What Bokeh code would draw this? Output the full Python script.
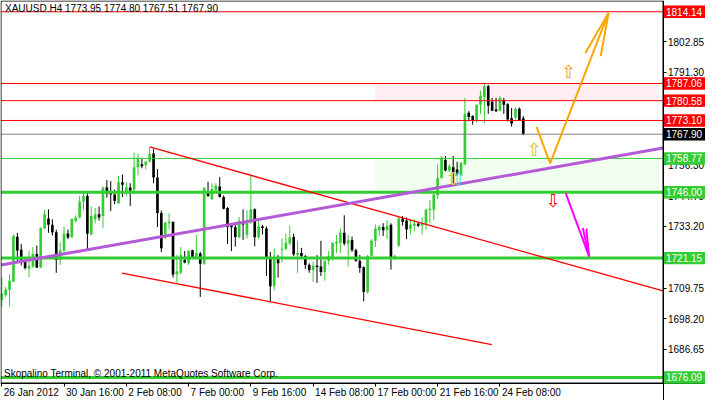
from bokeh.plotting import figure
from bokeh.models import FixedTicker, Label, ColumnDataSource, NumeralTickFormatter, LinearAxis
from bokeh.core.properties import value
from bokeh.embed import file_html
from bokeh.resources import INLINE

# ---------------- data ----------------
bar_open = [1705.3, 1707.2, 1709.2, 1712.3, 1729.2, 1724.3, 1720.1, 1717.2, 1718.0, 1722.7,
            1717.6, 1732.5, 1736.1, 1733.7, 1730.9, 1720.4, 1724.0, 1730.4, 1728.9, 1735.2,
            1736.5, 1742.5, 1744.6, 1730.1, 1735.7, 1737.7, 1737.0, 1747.8, 1746.0, 1745.2,
            1741.8, 1749.8, 1746.1, 1747.8, 1747.0, 1755.4, 1756.6, 1756.3, 1757.6, 1760.6,
            1751.6, 1738.2, 1728.9, 1734.3, 1734.9, 1715.0, 1715.6, 1720.4, 1719.2, 1724.1,
            1721.0, 1722.9, 1719.0, 1745.8, 1743.4, 1746.8, 1748.2, 1744.2, 1740.1, 1733.7,
            1732.8, 1728.9, 1735.2, 1730.0, 1735.0, 1739.6, 1729.0, 1733.1, 1732.3, 1721.0,
            1710.5, 1721.6, 1724.3, 1724.7, 1726.7, 1729.1, 1722.3, 1723.1, 1721.9, 1718.6,
            1716.6, 1718.3, 1718.0, 1715.9, 1720.1, 1721.0, 1726.7, 1726.9, 1730.7, 1726.7,
            1728.0, 1724.1, 1720.1, 1717.7, 1708.4, 1722.0, 1727.7, 1731.7, 1732.9, 1731.7,
            1733.7, 1721.3, 1725.9, 1736.1, 1735.3, 1732.2, 1733.4, 1734.1, 1733.4, 1734.1,
            1739.2, 1739.4, 1744.9, 1751.4, 1758.2, 1754.2, 1755.4, 1754.6, 1752.7, 1756.6,
            1776.0, 1774.8, 1772.9, 1779.0, 1782.0, 1786.0, 1780.2, 1777.2, 1776.8, 1780.8,
            1779.2, 1773.9, 1774.1, 1777.5, 1773.95]
bar_high = [1713.8, 1710.2, 1715.0, 1730.1, 1730.7, 1726.5, 1721.6, 1724.0, 1725.3, 1725.9,
            1732.7, 1739.4, 1739.6, 1735.8, 1731.9, 1727.1, 1733.1, 1731.9, 1736.1, 1737.3,
            1744.6, 1746.4, 1746.4, 1740.6, 1740.1, 1740.6, 1748.2, 1750.6, 1750.2, 1747.0,
            1752.2, 1752.7, 1749.8, 1749.4, 1760.9, 1760.6, 1759.0, 1757.8, 1763.0, 1762.3,
            1754.8, 1739.1, 1734.9, 1738.1, 1734.9, 1722.3, 1725.3, 1723.8, 1724.1, 1724.3,
            1729.9, 1723.5, 1748.0, 1750.0, 1749.4, 1749.4, 1751.8, 1744.8, 1740.4, 1734.3,
            1734.3, 1736.7, 1739.5, 1739.2, 1752.3, 1739.9, 1736.0, 1733.7, 1733.1, 1723.5,
            1724.7, 1722.3, 1728.6, 1730.4, 1733.4, 1730.4, 1727.7, 1725.0, 1722.3, 1719.2,
            1719.8, 1722.3, 1727.7, 1720.4, 1723.8, 1727.1, 1729.9, 1732.3, 1737.3, 1729.9,
            1729.3, 1724.7, 1722.3, 1718.0, 1722.3, 1728.3, 1733.7, 1733.7, 1734.3, 1735.5,
            1734.3, 1722.5, 1736.7, 1737.0, 1736.5, 1735.8, 1735.8, 1734.6, 1736.5, 1739.8,
            1743.0, 1746.4, 1756.6, 1759.7, 1759.7, 1756.6, 1759.7, 1757.5, 1757.5, 1781.6,
            1776.6, 1775.1, 1779.2, 1784.4, 1787.4, 1786.5, 1781.6, 1781.6, 1782.4, 1781.6,
            1779.6, 1777.8, 1778.0, 1778.0, 1774.80]
bar_low = [1702.9, 1706.5, 1702.9, 1712.0, 1719.8, 1718.4, 1716.8, 1714.0, 1717.4, 1717.4,
           1717.4, 1731.9, 1730.7, 1729.7, 1715.6, 1718.6, 1723.4, 1728.3, 1728.9, 1734.5,
           1736.1, 1739.4, 1724.4, 1729.7, 1734.3, 1735.3, 1732.5, 1744.0, 1738.9, 1741.5,
           1741.8, 1744.2, 1744.6, 1740.8, 1745.2, 1752.4, 1755.1, 1754.6, 1757.2, 1749.4,
           1732.9, 1723.4, 1728.3, 1731.9, 1713.8, 1711.8, 1715.0, 1719.2, 1718.6, 1721.0,
           1720.7, 1706.5, 1718.6, 1744.3, 1743.1, 1746.4, 1744.0, 1739.5, 1726.5, 1723.8,
           1725.5, 1728.9, 1728.0, 1728.5, 1734.0, 1725.6, 1728.4, 1730.0, 1714.4, 1704.8,
           1709.0, 1713.8, 1719.5, 1724.1, 1725.9, 1721.9, 1715.6, 1721.4, 1717.1, 1715.6,
           1712.2, 1711.8, 1714.4, 1712.6, 1718.6, 1720.2, 1723.1, 1723.1, 1725.9, 1718.0,
           1723.5, 1719.8, 1715.6, 1704.8, 1707.8, 1721.7, 1725.3, 1729.5, 1729.5, 1728.3,
           1716.8, 1720.4, 1725.3, 1733.4, 1728.3, 1730.1, 1731.3, 1732.9, 1730.1, 1731.9,
           1734.3, 1735.5, 1743.4, 1751.2, 1753.9, 1753.6, 1749.4, 1752.4, 1752.4, 1756.3,
           1772.7, 1771.5, 1772.3, 1775.6, 1772.0, 1775.6, 1776.6, 1776.3, 1776.6, 1775.6,
           1772.7, 1770.8, 1773.5, 1773.0, 1767.51]
bar_close = [1707.8, 1709.3, 1712.6, 1729.5, 1724.0, 1720.1, 1717.4, 1718.3, 1722.8, 1717.6,
             1732.5, 1737.7, 1733.7, 1730.9, 1720.4, 1724.0, 1730.4, 1728.9, 1735.9, 1736.5,
             1742.5, 1744.6, 1730.3, 1737.0, 1737.7, 1736.5, 1747.8, 1745.4, 1745.2, 1742.8,
             1749.8, 1748.8, 1747.9, 1746.6, 1755.4, 1759.0, 1755.8, 1757.6, 1760.5, 1751.6,
             1738.2, 1724.9, 1734.5, 1735.0, 1715.0, 1716.2, 1722.3, 1719.5, 1723.8, 1721.4,
             1723.1, 1719.0, 1747.6, 1744.6, 1747.2, 1748.5, 1744.2, 1739.8, 1732.8, 1732.8,
             1729.1, 1735.2, 1733.8, 1735.5, 1739.6, 1729.0, 1733.1, 1732.5, 1721.0, 1710.5,
             1720.7, 1719.2, 1724.7, 1726.9, 1728.9, 1722.6, 1723.1, 1721.9, 1718.6, 1716.6,
             1718.3, 1717.8, 1715.9, 1720.1, 1721.9, 1726.9, 1727.3, 1730.7, 1726.7, 1727.9,
             1724.1, 1720.1, 1717.4, 1708.4, 1722.0, 1727.7, 1732.2, 1732.9, 1731.7, 1733.4,
             1721.3, 1722.0, 1736.1, 1734.9, 1731.9, 1733.7, 1734.1, 1733.4, 1734.1, 1739.4,
             1739.8, 1745.2, 1751.4, 1759.1, 1754.2, 1755.8, 1753.6, 1753.0, 1757.0, 1775.6,
             1774.4, 1772.9, 1779.0, 1782.4, 1786.0, 1778.7, 1776.8, 1776.6, 1781.6, 1779.0,
             1773.5, 1772.0, 1777.5, 1773.2, 1767.90]

tick_bars = [0, 16, 32, 48, 64, 80, 96, 112, 128]
tick_labels = ["26 Jan 2012", "30 Jan 16:00", "2 Feb 08:00", "7 Feb 00:00", "9 Feb 16:00",
               "14 Feb 08:00", "17 Feb 00:00", "21 Feb 16:00", "24 Feb 08:00"]
price_ticks = [1814.40, 1802.85, 1791.30, 1779.75, 1768.20, 1756.30, 1744.75, 1733.20,
               1721.65, 1709.75, 1698.20, 1686.65, 1675.10]

resistance_levels = [1814.14, 1787.06, 1780.58, 1773.10]
support_levels = [1758.77, 1746.00, 1721.15, 1676.09]
support_widths = [1, 3, 3, 3]
last_price = 1767.90

zone_left, zone_right = 95.9, 168.9
pink_zone = (1780.58, 1787.06)
green_zone = (1746.00, 1758.77)

channel_top_x = [38.0, 169.9]
channel_top_y = [1763.1, 1708.8]
channel_bot_x = [30.85, 125.9]
channel_bot_y = [1715.5, 1688.5]
trend_x = [-0.2, 169.9]
trend_y = [1718.55, 1762.7]

up_path_x = [137.4, 140.9, 155.9]
up_path_y = [1770.7, 1756.9, 1813.7]
up_head_x = [[155.9, 149.9], [155.9, 153.9]]
up_head_y = [[1813.7, 1798.5], [1813.7, 1797.4]]
down_path_x = [144.9, 150.9]
down_path_y = [1745.7, 1721.8]
down_head_x = [[150.9, 149.3], [150.9, 150.2]]
down_head_y = [[1721.8, 1732.5], [1721.8, 1732.3]]

up_marks_x = [145.7, 136.9, 116.0]
up_marks_y = [1791.6, 1762.0, 1751.1]
up_marks_color = ["#E8A317", "#D4C020", "#E0C000"]
up_mark2_x = [117.4]
up_mark2_y = [1751.1]
down_marks_x = [141.7]
down_marks_y = [1742.8]

title_text = "XAUUSD.H4  1773.95 1774.80 1767.51 1767.90"
copyright_text = "Skopalino Terminal, \u00a9 2001-2011 MetaQuotes Software Corp."

# ---------------- layout geometry ----------------
GREEN = "#32CD32"
FONT = "Liberation Sans"
W, H = 705, 400
CH_L, CH_R = -0.2, 169.9          # chart area in bars
CH_B, CH_T = 1674.0, 1818.2       # chart area in price
CH_PX_W, CH_PX_H = 662.0, 382.0   # chart area size in px
ppb = CH_PX_W / (CH_R - CH_L)
ppp = CH_PX_H / (CH_T - CH_B)
x_start = CH_L - 0.5 / ppb
x_end = x_start + W / ppb
y_end = CH_T + 0.5 / ppp
y_start = y_end - H / ppp

p = figure(width=W, height=H, x_range=(x_start, x_end), y_range=(y_start, y_end),
           output_backend="svg", toolbar_location=None,
           x_axis_location=None, y_axis_location=None,
           min_border_left=0, min_border_top=0, min_border_right=0, min_border_bottom=0)
p.grid.visible = False
p.outline_line_color = None
p.background_fill_color = "white"


def style_axis(ax):
    ax.axis_line_color = "black"
    ax.major_tick_in = 0
    ax.major_tick_out = 3
    ax.minor_tick_line_color = None
    ax.major_label_text_font = FONT
    ax.major_label_text_font_size = "10px"
    ax.major_label_text_color = "black"
    ax.major_label_standoff = 2


# price axis at chart's right border
yax = LinearAxis(fixed_location=CH_R, ticker=FixedTicker(ticks=price_ticks),
                 formatter=NumeralTickFormatter(format="0.00"))
style_axis(yax)
p.add_layout(yax, "right")

# time axis: tick marks at bars
xax_ticks = LinearAxis(fixed_location=CH_B, ticker=FixedTicker(ticks=tick_bars))
style_axis(xax_ticks)
xax_ticks.major_label_text_color = None
p.add_layout(xax_ticks, "below")

# time axis labels, left-aligned to the ticks (centre shifted by half the label width)
char_w = {"J": 0.5, "F": 0.611, " ": 0.278, ":": 0.278}
def text_w(s, size=10.0):
    return sum(char_w.get(ch, 0.556) for ch in s) * size

label_pos = [b + (text_w(t) / 2 + 2) / ppb for b, t in zip(tick_bars, tick_labels)]
xax_labels = LinearAxis(fixed_location=CH_B, ticker=FixedTicker(ticks=label_pos))
style_axis(xax_labels)
xax_labels.major_tick_line_color = None
xax_labels.major_tick_out = 0
xax_labels.axis_line_color = None
xax_labels.major_label_standoff = 4
xax_labels.major_label_overrides = {pos: t for pos, t in zip(label_pos, tick_labels)}
p.add_layout(xax_labels, "below")

# zones
p.quad(left=[zone_left], right=[zone_right], bottom=[pink_zone[0]], top=[pink_zone[1]],
       fill_color="#FFEEF2", line_color=None)
p.quad(left=[zone_left], right=[zone_right], bottom=[green_zone[0]], top=[green_zone[1]],
       fill_color="#F0FFF0", line_color=None)

# candles
idx = list(range(len(bar_open)))
cols = [GREEN if c >= o else "black" for o, c in zip(bar_open, bar_close)]
tops, bots = [], []
for o, c in zip(bar_open, bar_close):
    t, b = max(o, c), min(o, c)
    if t - b < 0.4:
        m = (t + b) / 2
        t, b = m + 0.2, m - 0.2
    tops.append(t)
    bots.append(b)
src = ColumnDataSource(dict(x=idx, hi=bar_high, lo=bar_low, top=tops, bot=bots, col=cols))
p.segment(x0="x", y0="lo", x1="x", y1="hi", line_color="col", line_width=1, source=src)
p.vbar(x="x", top="top", bottom="bot", width=0.68, fill_color="col", line_color=None, source=src)

# horizontal levels (across the chart area only)
n_r = len(resistance_levels)
p.segment(x0=[CH_L] * n_r, x1=[CH_R] * n_r, y0=resistance_levels, y1=resistance_levels,
          line_color="red", line_width=1)
p.segment(x0=[CH_L], x1=[CH_R], y0=[last_price], y1=[last_price], line_color="#808080", line_width=1)
n_s = len(support_levels)
p.segment(x0=[CH_L] * n_s, x1=[CH_R] * n_s, y0=support_levels, y1=support_levels,
          line_color=GREEN, line_width=support_widths)

# trend lines
p.line(channel_top_x, channel_top_y, line_color="red", line_width=1.3)
p.line(channel_bot_x, channel_bot_y, line_color="red", line_width=1.3)
p.line(trend_x, trend_y, line_color="#B45AD6", line_width=3)

# forecast arrows
p.line(up_path_x, up_path_y, line_color="orange", line_width=2)
p.multi_line(up_head_x, up_head_y, line_color="orange", line_width=2)
p.line(down_path_x, down_path_y, line_color="magenta", line_width=2)
p.multi_line(down_head_x, down_head_y, line_color="magenta", line_width=2)

arrow_font = value("DejaVu Sans")
p.text(x=up_marks_x, y=up_marks_y, text=["\u21e7"] * len(up_marks_x), text_color=up_marks_color,
       text_font=arrow_font, text_font_size="18px", text_align="center", text_baseline="middle")
p.text(x=up_mark2_x, y=up_mark2_y, text=["\u21e7"], text_color="#40D8D0",
       text_font=arrow_font, text_font_size="18px", text_align="center", text_baseline="middle")
p.text(x=down_marks_x, y=down_marks_y, text=["\u21e9"], text_color="red",
       text_font=arrow_font, text_font_size="18px", text_align="center", text_baseline="middle")

# chart border
p.quad(left=[CH_L], right=[CH_R], bottom=[CH_B], top=[CH_T], fill_color=None,
       line_color="black", line_width=1)

# texts
p.add_layout(Label(x=CH_L, y=CH_T, x_offset=4, y_offset=-2, text=title_text, text_font=FONT,
                   text_font_size="10px", text_color="black", text_baseline="top"))
p.add_layout(Label(x=CH_L, y=CH_B, x_offset=3, y_offset=4, text=copyright_text, text_font=FONT,
                   text_font_size="10px", text_color="black", text_baseline="bottom"))

# price boxes over the price axis
box_levels = resistance_levels + [last_price] + support_levels
box_colors = ["red"] * n_r + ["black"] + [GREEN] * n_s
half = 6.2 / ppp
boxes = p.quad(left=[CH_R + 1 / ppb] * len(box_levels), right=[x_end] * len(box_levels),
               bottom=[v - half for v in box_levels], top=[v + half for v in box_levels],
               fill_color=box_colors, line_color=None)
boxes.level = "overlay"
box_txt = p.text(x=[CH_R] * len(box_levels), y=box_levels, text=[f"{v:.2f}" for v in box_levels],
                 x_offset=3, text_color="white", text_font=value(FONT), text_font_size="10px",
                 text_align="left", text_baseline="middle")
box_txt.level = "overlay"

open("out.html", "w").write(file_html(p, INLINE))
